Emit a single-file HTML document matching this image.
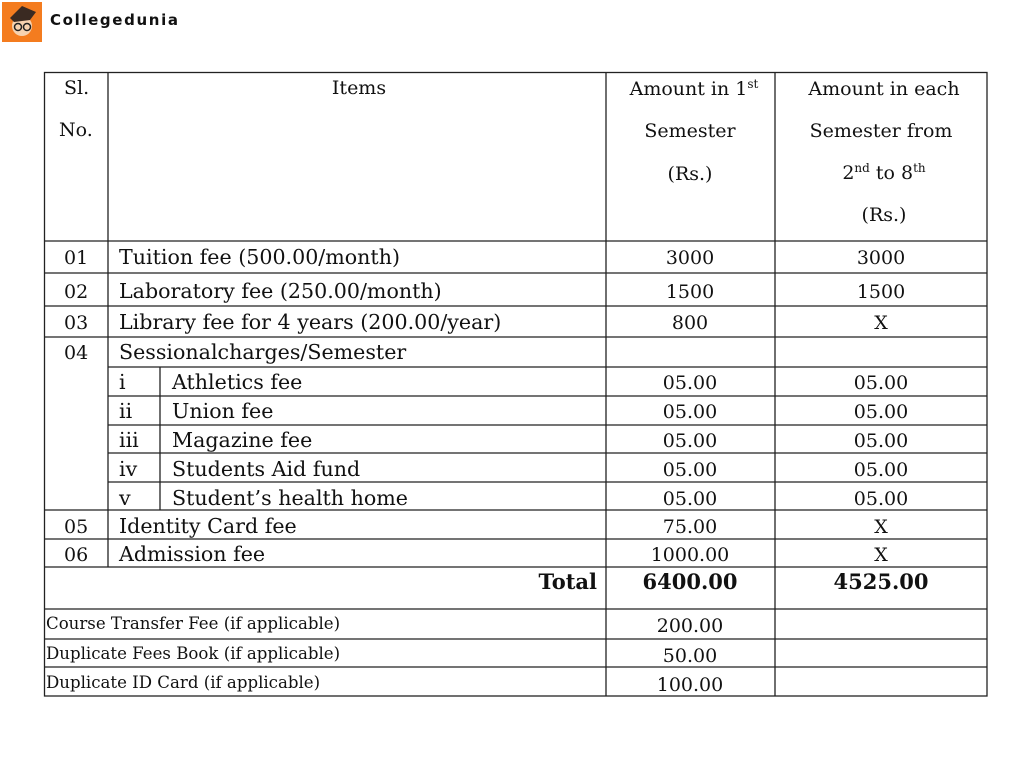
<!DOCTYPE html>
<html><head><meta charset="utf-8"><style>
html,body{margin:0;padding:0;background:#fff;width:1024px;height:768px;overflow:hidden}
svg{display:block}
text{font-family:"DejaVu Serif",serif;font-size:19px;fill:#111}
.c{text-anchor:middle}
.l{font-size:20.6px}
.f{font-size:16.6px}
.b{font-weight:bold;font-size:21px}
</style></head><body>
<svg width="1024" height="768" viewBox="0 0 1024 768">
<rect x="2" y="2" width="40" height="40" fill="#f47c1f"/>
<circle cx="22" cy="26" r="10" fill="#f6d2b0"/>
<path d="M10 18 L22 6 L36 12 L30 20 L14 22 Z" fill="#3a2a22"/>
<circle cx="18" cy="27" r="3.5" fill="none" stroke="#222" stroke-width="1.5"/>
<circle cx="27" cy="27" r="3.5" fill="none" stroke="#222" stroke-width="1.5"/>
<text x="50" y="25" textLength="128" style="font-family:'DejaVu Sans',sans-serif;font-weight:bold;font-size:15px">Collegedunia</text>
<g stroke="#222" stroke-width="1.3" fill="none">
<rect x="44.5" y="72.5" width="942.5" height="623.5"/>
<line x1="108" y1="72" x2="108" y2="567"/>
<line x1="606" y1="72" x2="606" y2="696"/>
<line x1="775" y1="72" x2="775" y2="696"/>
<line x1="160" y1="367" x2="160" y2="510"/>
<line x1="44" y1="241" x2="987" y2="241"/>
<line x1="44" y1="273" x2="987" y2="273"/>
<line x1="44" y1="306" x2="987" y2="306"/>
<line x1="44" y1="337" x2="987" y2="337"/>
<line x1="108" y1="367" x2="987" y2="367"/>
<line x1="108" y1="396" x2="987" y2="396"/>
<line x1="108" y1="425" x2="987" y2="425"/>
<line x1="108" y1="453" x2="987" y2="453"/>
<line x1="108" y1="482" x2="987" y2="482"/>
<line x1="44" y1="510" x2="987" y2="510"/>
<line x1="44" y1="539" x2="987" y2="539"/>
<line x1="44" y1="567" x2="987" y2="567"/>
<line x1="44" y1="609" x2="987" y2="609"/>
<line x1="44" y1="639" x2="987" y2="639"/>
<line x1="44" y1="667" x2="987" y2="667"/>
</g>
<text x="64" y="94">Sl.</text>
<text x="59" y="136">No.</text>
<text class="c" x="359" y="94">Items</text>
<text class="c" x="694" y="95">Amount in 1<tspan font-size="12" dy="-7">st</tspan></text>
<text class="c" x="690" y="137">Semester</text>
<text class="c" x="690" y="180">(Rs.)</text>
<text class="c" x="884" y="95">Amount in each</text>
<text class="c" x="881" y="137">Semester from</text>
<text class="c" x="884" y="179">2<tspan font-size="12" dy="-7">nd</tspan><tspan dy="7"> to 8</tspan><tspan font-size="12" dy="-7">th</tspan></text>
<text class="c" x="884" y="221">(Rs.)</text>

<text x="64" y="264">01</text><text class="l" x="119" y="264">Tuition fee (500.00/month)</text><text class="c" x="690" y="264">3000</text><text class="c" x="881" y="264">3000</text>
<text x="64" y="298">02</text><text class="l" x="119" y="298">Laboratory fee (250.00/month)</text><text class="c" x="690" y="298">1500</text><text class="c" x="881" y="298">1500</text>
<text x="64" y="329">03</text><text class="l" x="119" y="329">Library fee for 4 years (200.00/year)</text><text class="c" x="690" y="329">800</text><text class="c" x="881" y="329">X</text>
<text x="64" y="359">04</text><text class="l" x="119" y="359">Sessionalcharges/Semester</text>
<text class="l" x="119" y="389">i</text><text class="l" x="172" y="389">Athletics fee</text><text class="c" x="690" y="389">05.00</text><text class="c" x="881" y="389">05.00</text>
<text class="l" x="119" y="418">ii</text><text class="l" x="172" y="418">Union fee</text><text class="c" x="690" y="418">05.00</text><text class="c" x="881" y="418">05.00</text>
<text class="l" x="119" y="447">iii</text><text class="l" x="172" y="447">Magazine fee</text><text class="c" x="690" y="447">05.00</text><text class="c" x="881" y="447">05.00</text>
<text class="l" x="119" y="476">iv</text><text class="l" x="172" y="476">Students Aid fund</text><text class="c" x="690" y="476">05.00</text><text class="c" x="881" y="476">05.00</text>
<text class="l" x="119" y="505">v</text><text class="l" x="172" y="505">Student’s health home</text><text class="c" x="690" y="505">05.00</text><text class="c" x="881" y="505">05.00</text>
<text x="64" y="533">05</text><text class="l" x="119" y="533">Identity Card fee</text><text class="c" x="690" y="533">75.00</text><text class="c" x="881" y="533">X</text>
<text x="64" y="561">06</text><text class="l" x="119" y="561">Admission fee</text><text class="c" x="690" y="561">1000.00</text><text class="c" x="881" y="561">X</text>
<text class="b" x="597" y="589" text-anchor="end">Total</text>
<text class="b c" x="690" y="589">6400.00</text>
<text class="b c" x="881" y="589">4525.00</text>
<text class="f" x="46" y="629">Course Transfer Fee (if applicable)</text><text class="c" x="690" y="632">200.00</text>
<text class="f" x="46" y="659">Duplicate Fees Book (if applicable)</text><text class="c" x="690" y="662">50.00</text>
<text class="f" x="46" y="688">Duplicate ID Card (if applicable)</text><text class="c" x="690" y="691">100.00</text>
</svg>
</body></html>
